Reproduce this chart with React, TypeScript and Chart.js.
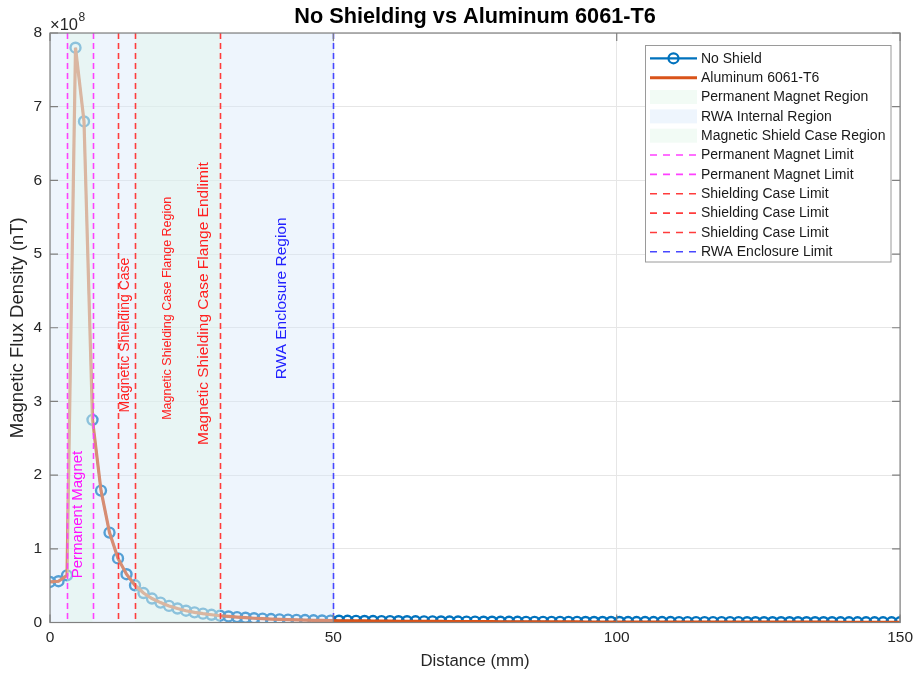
import React, { useEffect, useRef } from "react";
import { Chart, registerables } from "chart.js";

Chart.register(...registerables);

// Distance along the axis (mm)
const distanceMm = [
  0, 1.5, 3, 4.5, 6, 7.5, 9, 10.5, 12, 13.5,
  15, 16.5, 18, 19.5, 21, 22.5, 24, 25.5, 27, 28.5,
  30, 31.5, 33, 34.5, 36, 37.5, 39, 40.5, 42, 43.5,
  45, 46.5, 48, 49.5, 51, 52.5, 54, 55.5, 57, 58.5,
  60, 61.5, 63, 64.5, 66, 67.5, 69, 70.5, 72, 73.5,
  75, 76.5, 78, 79.5, 81, 82.5, 84, 85.5, 87, 88.5,
  90, 91.5, 93, 94.5, 96, 97.5, 99, 100.5, 102, 103.5,
  105, 106.5, 108, 109.5, 111, 112.5, 114, 115.5, 117, 118.5,
  120, 121.5, 123, 124.5, 126, 127.5, 129, 130.5, 132, 133.5,
  135, 136.5, 138, 139.5, 141, 142.5, 144, 145.5, 147, 148.5,
  150,
];

// Magnetic flux density, in units of 1e8 nT
const noShieldFlux = [
  0.55, 0.56, 0.64, 7.8, 6.8, 2.75, 1.79, 1.22, 0.87, 0.655,
  0.505, 0.4, 0.325, 0.27, 0.225, 0.19, 0.16, 0.138, 0.12, 0.105,
  0.092, 0.082, 0.073, 0.065, 0.058, 0.052, 0.047, 0.043, 0.039, 0.036,
  0.033, 0.03, 0.028, 0.026, 0.024, 0.023, 0.022, 0.021, 0.02, 0.019,
  0.018, 0.017, 0.017, 0.016, 0.015, 0.015, 0.014, 0.013, 0.013, 0.012,
  0.012, 0.011, 0.011, 0.01, 0.01, 0.01, 0.009, 0.009, 0.009, 0.008,
  0.008, 0.008, 0.008, 0.007, 0.007, 0.007, 0.007, 0.007, 0.006, 0.006,
  0.006, 0.006, 0.006, 0.006, 0.005, 0.005, 0.005, 0.005, 0.005, 0.005,
  0.005, 0.005, 0.004, 0.004, 0.004, 0.004, 0.004, 0.004, 0.004, 0.004,
  0.004, 0.004, 0.004, 0.003, 0.003, 0.003, 0.003, 0.003, 0.003, 0.003,
  0.003,
];

const aluminumFlux = [
  0.55, 0.56, 0.64, 7.8, 6.8, 2.75, 1.79, 1.22, 0.87, 0.655,
  0.505, 0.4, 0.325, 0.27, 0.225, 0.19, 0.16, 0.138, 0.12, 0.105,
  0.092, 0.082, 0.073, 0.065, 0.058, 0.052, 0.047, 0.043, 0.039, 0.036,
  0.033, 0.03, 0.028, 0.026, 0.024, 0.023, 0.022, 0.021, 0.02, 0.019,
  0.018, 0.017, 0.017, 0.016, 0.015, 0.015, 0.014, 0.013, 0.013, 0.012,
  0.012, 0.011, 0.011, 0.01, 0.01, 0.01, 0.009, 0.009, 0.009, 0.008,
  0.008, 0.008, 0.008, 0.007, 0.007, 0.007, 0.007, 0.007, 0.006, 0.006,
  0.006, 0.006, 0.006, 0.006, 0.005, 0.005, 0.005, 0.005, 0.005, 0.005,
  0.005, 0.005, 0.004, 0.004, 0.004, 0.004, 0.004, 0.004, 0.004, 0.004,
  0.004, 0.004, 0.004, 0.003, 0.003, 0.003, 0.003, 0.003, 0.003, 0.003,
  0.003,
];

const xTickValues = [0, 50, 100, 150];
const yTickValues = [0, 1, 2, 3, 4, 5, 6, 7, 8];

const chartTitle = "No Shielding vs Aluminum 6061-T6";

// Shaded regions (mm)
const regionNames = ["RWA Internal Region", "Permanent Magnet Region", "Magnetic Shield Case Region"];
const regionStart = [0, 3, 15];
const regionEnd = [50, 7.5, 30];

// Vertical limit lines (mm)
const limitNames = [
  "Permanent Magnet Limit",
  "Permanent Magnet Limit",
  "Shielding Case Limit",
  "Shielding Case Limit",
  "Shielding Case Limit",
  "RWA Enclosure Limit",
];
const limitPositions = [3, 7.5, 12, 15, 30, 50];

// Rotated annotations: text, anchor x (mm), anchor y (1e8 nT)
const noteTexts = [
  "Permanent Magnet",
  "Magnetic Shielding Case",
  "Magnetic Shielding Case Flange Region",
  "Magnetic Shielding Case Flange Endlimit",
  "RWA Enclosure Region",
];
const noteX = [4.95, 13.2, 20.7, 27.2, 40.9];
const noteY = [0.6, 2.85, 2.75, 2.41, 3.3];

const FONT = "'Liberation Sans', Arial, Helvetica, sans-serif";
const AXIS_COLOR = "#808080";
const TEXT_COLOR = "#262626";

const regionColors = ["rgba(212,231,251,0.4)", "rgba(223,245,230,0.4)", "rgba(223,245,230,0.4)"];
const limitColors = ["#ff40ff", "#ff40ff", "#ff3c3c", "#ff3c3c", "#ff3c3c", "#4848ff"];
const noteColors = ["#ff10ff", "#ff2020", "#ff2020", "#ff2020", "#2020ff"];
const noteSizes = [15, 14, 12.5, 15.5, 15.5];

const overlayPlugin = {
  id: "overlay",
  afterDatasetsDraw(chart: any) {
    const { ctx, chartArea } = chart;
    const { left, right, top, bottom } = chartArea;
    const xs = chart.scales.x;
    const ys = chart.scales.y;

    // regions + limit lines, clipped
    ctx.save();
    ctx.beginPath();
    ctx.rect(left, top, right - left, bottom - top);
    ctx.clip();
    for (let i = 0; i < regionNames.length; i++) {
      const x0 = xs.getPixelForValue(regionStart[i]);
      const x1 = xs.getPixelForValue(regionEnd[i]);
      ctx.fillStyle = regionColors[i];
      ctx.fillRect(x0, top, x1 - x0, bottom - top);
    }
    ctx.lineWidth = 1.6;
    ctx.setLineDash([6, 4]);
    for (let i = 0; i < limitPositions.length; i++) {
      const px = Math.round(xs.getPixelForValue(limitPositions[i])) + 0.5;
      ctx.strokeStyle = limitColors[i];
      ctx.beginPath();
      ctx.moveTo(px, top);
      ctx.lineTo(px, bottom);
      ctx.stroke();
    }
    ctx.restore();

    // annotations
    for (let i = 0; i < noteTexts.length; i++) {
      const px = xs.getPixelForValue(noteX[i]);
      const py = ys.getPixelForValue(noteY[i]);
      ctx.save();
      ctx.translate(px, py);
      ctx.rotate(-Math.PI / 2);
      ctx.font = `${noteSizes[i]}px ${FONT}`;
      ctx.fillStyle = noteColors[i];
      ctx.textAlign = "left";
      ctx.textBaseline = "middle";
      ctx.fillText(noteTexts[i], 0, 0);
      ctx.restore();
    }

    // axes box and inward ticks
    ctx.save();
    ctx.strokeStyle = AXIS_COLOR;
    ctx.lineWidth = 1.2;
    ctx.strokeRect(left, top, right - left, bottom - top);
    ctx.beginPath();
    for (const v of yTickValues) {
      const py = ys.getPixelForValue(v);
      ctx.moveTo(left, py);
      ctx.lineTo(left + 8, py);
      ctx.moveTo(right, py);
      ctx.lineTo(right - 8, py);
    }
    for (const v of xTickValues) {
      const px = xs.getPixelForValue(v);
      ctx.moveTo(px, bottom);
      ctx.lineTo(px, bottom - 8);
      ctx.moveTo(px, top);
      ctx.lineTo(px, top + 8);
    }
    ctx.stroke();
    ctx.restore();

    // title, centred over the plot area
    ctx.save();
    ctx.fillStyle = "#000000";
    ctx.font = `bold 21.7px ${FONT}`;
    ctx.textAlign = "center";
    ctx.textBaseline = "middle";
    ctx.fillText(chartTitle, (left + right) / 2, 17);
    ctx.restore();

    // exponent label
    ctx.save();
    ctx.fillStyle = TEXT_COLOR;
    ctx.textAlign = "left";
    ctx.textBaseline = "alphabetic";
    ctx.font = `16.5px ${FONT}`;
    ctx.fillText("\u00d710", left, top - 3);
    const w = ctx.measureText("\u00d710").width;
    ctx.font = `12px ${FONT}`;
    ctx.fillText("8", left + w + 0.5, top - 12);
    ctx.restore();

    // legend
    const lx = 645.5;
    const ly = 45.5;
    const lw = 245.5;
    const lh = 216.5;
    ctx.save();
    ctx.fillStyle = "#ffffff";
    ctx.fillRect(lx, ly, lw, lh);
    ctx.strokeStyle = "#9a9a9a";
    ctx.lineWidth = 1;
    ctx.strokeRect(lx, ly, lw, lh);

    const rows: { label: string; kind: string; color: string }[] = [
      { label: "No Shield", kind: "marker", color: "#0072BD" },
      { label: "Aluminum 6061-T6", kind: "line", color: "#D95319" },
      { label: regionNames[1], kind: "patch", color: regionColors[1] },
      { label: regionNames[0], kind: "patch", color: regionColors[0] },
      { label: regionNames[2], kind: "patch", color: regionColors[2] },
    ];
    for (let i = 0; i < limitNames.length; i++) {
      rows.push({ label: limitNames[i], kind: "dash", color: limitColors[i] });
    }
    const sx0 = 650;
    const sx1 = 697;
    const rowH = 19.35;
    const firstY = 58.3;
    ctx.font = `14px ${FONT}`;
    ctx.textAlign = "left";
    ctx.textBaseline = "middle";
    rows.forEach((r, i) => {
      const cy = firstY + i * rowH;
      if (r.kind === "marker") {
        ctx.strokeStyle = r.color;
        ctx.lineWidth = 2.2;
        ctx.setLineDash([]);
        ctx.beginPath();
        ctx.moveTo(sx0, cy);
        ctx.lineTo(sx1, cy);
        ctx.stroke();
        ctx.beginPath();
        ctx.arc((sx0 + sx1) / 2, cy, 5, 0, Math.PI * 2);
        ctx.stroke();
      } else if (r.kind === "line") {
        ctx.strokeStyle = r.color;
        ctx.lineWidth = 3;
        ctx.setLineDash([]);
        ctx.beginPath();
        ctx.moveTo(sx0, cy);
        ctx.lineTo(sx1, cy);
        ctx.stroke();
      } else if (r.kind === "patch") {
        ctx.fillStyle = r.color;
        ctx.fillRect(sx0, cy - 7, sx1 - sx0, 14);
      } else {
        ctx.strokeStyle = r.color;
        ctx.lineWidth = 1.6;
        ctx.setLineDash([7, 6]);
        ctx.beginPath();
        ctx.moveTo(sx0, cy);
        ctx.lineTo(sx1, cy);
        ctx.stroke();
        ctx.setLineDash([]);
      }
      ctx.fillStyle = "#1a1a1a";
      ctx.fillText(r.label, 701, cy + 0.5);
    });
    ctx.restore();
  },
};

export default function App() {
  const canvasRef = useRef<HTMLCanvasElement | null>(null);

  useEffect(() => {
    if (!canvasRef.current) return;
    const noShieldPoints = distanceMm.map((d, i) => ({ x: d, y: noShieldFlux[i] }));
    const aluminumPoints = distanceMm.map((d, i) => ({ x: d, y: aluminumFlux[i] }));

    const chart = new Chart(canvasRef.current, {
      type: "scatter",
      data: {
        datasets: [
          {
            label: "Aluminum 6061-T6",
            data: aluminumPoints,
            showLine: true,
            borderColor: "#D95319",
            borderWidth: 3.2,
            pointRadius: 0,
            order: 1,
          },
          {
            label: "No Shield",
            data: noShieldPoints,
            showLine: true,
            borderColor: "#0072BD",
            borderWidth: 2,
            pointRadius: 5,
            pointBorderWidth: 2.4,
            pointBorderColor: "#0072BD",
            pointBackgroundColor: "rgba(0,0,0,0)",
            order: 2,
          },
        ],
      },
      options: {
        animation: false,
        responsive: false,
        layout: { padding: { left: 0, right: 14, top: 33, bottom: 0 } },
        plugins: {
          legend: { display: false },
          tooltip: { enabled: false },
          title: { display: false },
        },
        scales: {
          x: {
            type: "linear",
            min: 0,
            max: 150,
            afterBuildTicks: (axis: any) => {
              axis.ticks = xTickValues.map((v) => ({ value: v }));
            },
            afterFit: (axis: any) => {
              axis.height = 54.5;
            },
            ticks: {
              font: { family: FONT, size: 15.5 },
              color: TEXT_COLOR,
              padding: 6,
              maxRotation: 0,
            },
            grid: { color: "#e6e6e6", drawTicks: false },
            border: { display: false },
            title: {
              display: true,
              text: "Distance (mm)",
              color: TEXT_COLOR,
              font: { family: FONT, size: 16.8 },
              padding: { top: 0, bottom: 5.5 },
            },
          },
          y: {
            type: "linear",
            min: 0,
            max: 8,
            afterBuildTicks: (axis: any) => {
              axis.ticks = yTickValues.map((v) => ({ value: v }));
            },
            afterFit: (axis: any) => {
              axis.width = 50;
            },
            ticks: {
              font: { family: FONT, size: 15.5 },
              color: TEXT_COLOR,
              padding: 8,
            },
            grid: { color: "#e6e6e6", drawTicks: false },
            border: { display: false },
            title: {
              display: true,
              text: "Magnetic Flux Density (nT)",
              color: TEXT_COLOR,
              font: { family: FONT, size: 18.5 },
              padding: { top: 6.9, bottom: 0 },
            },
          },
        },
      },
      plugins: [overlayPlugin],
    } as any);

    return () => chart.destroy();
  }, []);

  return (
    <div style={{ position: "fixed", left: 0, top: 0, width: 919, height: 677, background: "#ffffff" }}>
      <canvas ref={canvasRef} width={919} height={677} style={{ display: "block", width: 919, height: 677 }} />
    </div>
  );
}
